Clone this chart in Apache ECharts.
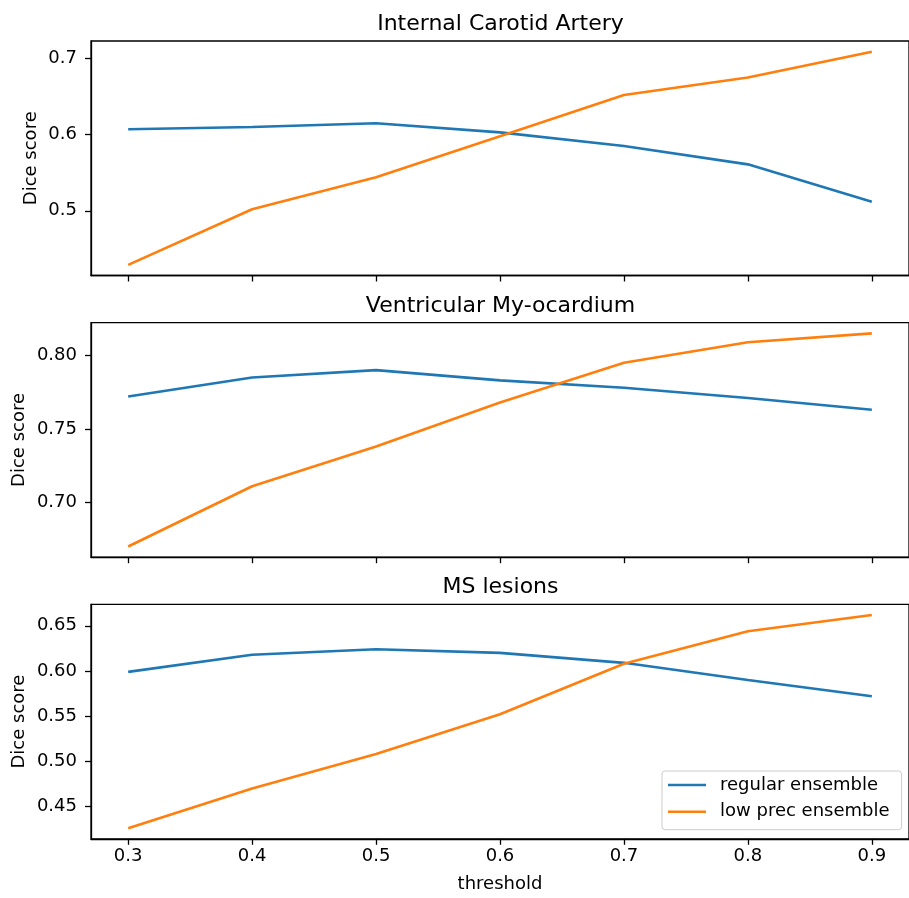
<!DOCTYPE html>
<html>
<head>
<meta charset="utf-8">
<script src="https://cdn.jsdelivr.net/npm/echarts@6/dist/echarts.min.js"></script>
<style>
html,body{margin:0;padding:0;background:#fff;}
#chart{width:909px;height:898px;}
</style>
</head>
<body>
<div id="chart"></div>
<script>
// ---- data ----
const thresholds = [0.3, 0.4, 0.5, 0.6, 0.7, 0.8, 0.9];
const titles = ['Internal Carotid Artery', 'Ventricular My-ocardium', 'MS lesions'];
const seriesNames = ['regular ensemble', 'low prec ensemble'];

const icaRegular = [0.607, 0.610, 0.615, 0.603, 0.585, 0.561, 0.512];
const icaLowPrec = [0.429, 0.502, 0.544, 0.598, 0.652, 0.675, 0.709];

const myoRegular = [0.772, 0.785, 0.790, 0.783, 0.778, 0.771, 0.763];
const myoLowPrec = [0.670, 0.711, 0.738, 0.768, 0.795, 0.809, 0.815];

const msRegular = [0.599, 0.618, 0.624, 0.620, 0.609, 0.590, 0.572];
const msLowPrec = [0.426, 0.470, 0.508, 0.552, 0.608, 0.644, 0.662];

const xTicks = [0.3, 0.4, 0.5, 0.6, 0.7, 0.8, 0.9];
const yTicksIca = [0.5, 0.6, 0.7];
const yTicksMyo = [0.70, 0.75, 0.80];
const yTicksMs = [0.45, 0.50, 0.55, 0.60, 0.65];

// ---- build ----
const panels = [
  {reg: icaRegular, low: icaLowPrec, ticks: yTicksIca, dec: 1},
  {reg: myoRegular, low: myoLowPrec, ticks: yTicksMyo, dec: 2},
  {reg: msRegular, low: msLowPrec, ticks: yTicksMs, dec: 2}
];
const colors = ['#1f77b4', '#ff7f0e'];
const FONT = 'DejaVu Sans';
const FS = 18;
const gridTops = [41, 322.7, 604.3];
const gridH = 234.5;
const titleTops = [12.4, 294.1, 575.7];
const nameGaps = [51, 63, 63];

function padRange(arrs) {
  let mn = Infinity, mx = -Infinity;
  arrs.forEach(a => a.forEach(v => { mn = Math.min(mn, v); mx = Math.max(mx, v); }));
  const m = (mx - mn) * 0.05;
  return [mn - m, mx + m];
}

const xr = padRange([thresholds]);
const grid = [], xAxis = [], yAxis = [], series = [], title = [];
panels.forEach((p, i) => {
  grid.push({left: 91, width: 819, top: gridTops[i], height: gridH, show: true,
    borderColor: '#000', borderWidth: 1.3, backgroundColor: 'transparent'});
  title.push({text: titles[i], left: 500.5, top: titleTops[i], textAlign: 'center', padding: 0,
    textStyle: {fontFamily: FONT, fontSize: 22, fontWeight: 'normal', color: '#000', lineHeight: 24}});
  xAxis.push({type: 'value', gridIndex: i, min: xr[0], max: xr[1],
    name: i === 2 ? 'threshold' : '', nameLocation: 'middle', nameGap: 37,
    nameTextStyle: {fontFamily: FONT, fontSize: FS, color: '#000'},
    axisLine: {show: true, lineStyle: {color: '#000', width: 1.3}},
    axisTick: {show: true, length: 6, lineStyle: {color: '#000', width: 1.3}, customValues: xTicks},
    axisLabel: {show: i === 2, customValues: xTicks, margin: 9, fontFamily: FONT, fontSize: FS, color: '#000',
      formatter: v => v.toFixed(1)},
    splitLine: {show: false}});
  const yr = padRange([p.reg, p.low]);
  yAxis.push({type: 'value', gridIndex: i, min: yr[0], max: yr[1],
    name: 'Dice score', nameLocation: 'middle', nameGap: nameGaps[i], nameMoveOverlap: false,
    nameTextStyle: {fontFamily: FONT, fontSize: FS, color: '#000'},
    axisLine: {show: true, lineStyle: {color: '#000', width: 1.3}},
    axisTick: {show: true, length: 6, lineStyle: {color: '#000', width: 1.3}, customValues: p.ticks},
    axisLabel: {customValues: p.ticks, margin: 14, fontFamily: FONT, fontSize: FS, color: '#000',
      formatter: v => v.toFixed(p.dec)},
    splitLine: {show: false}});
  [p.reg, p.low].forEach((arr, k) => {
    series.push({type: 'line', name: seriesNames[k], xAxisIndex: i, yAxisIndex: i,
      data: thresholds.map((t, j) => [t, arr[j]]), showSymbol: false, symbol: 'none',
      lineStyle: {color: colors[k], width: 2.6}, itemStyle: {color: colors[k]}, animation: false});
  });
});

const chart = echarts.init(document.getElementById('chart'), null, {renderer: 'canvas'});
chart.setOption({
  backgroundColor: '#fff',
  animation: false,
  title: title,
  grid: grid,
  xAxis: xAxis,
  yAxis: yAxis,
  series: series,
  legend: {
    data: seriesNames, orient: 'vertical', left: 662, top: 771,
    icon: 'rect', itemWidth: 38, itemHeight: 2.6, itemGap: 6.7,
    padding: [4, 12, 8, 6],
    backgroundColor: 'rgba(255,255,255,0.8)', borderColor: '#cccccc', borderWidth: 1, borderRadius: 3,
    textStyle: {fontFamily: FONT, fontSize: FS, color: '#000', lineHeight: 20, padding: [0, 0, 0, 9]}
  }
});
</script>
</body>
</html>
